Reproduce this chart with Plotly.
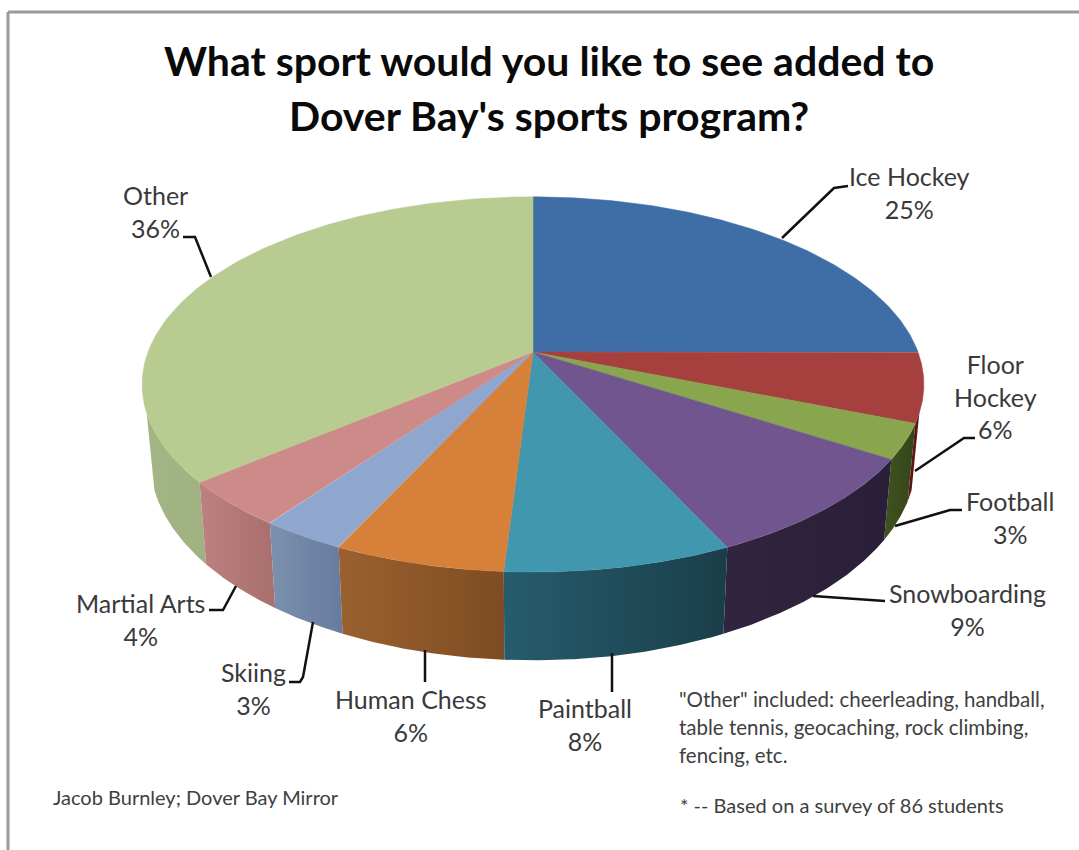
import numpy as np
import plotly.graph_objects as go

# Survey results, clockwise from twelve o'clock
categories = ["Ice Hockey", "Floor Hockey", "Football", "Snowboarding", "Paintball",
              "Human Chess", "Skiing", "Martial Arts", "Other"]
percent = [25, 6, 3, 9, 8, 6, 3, 4, 36]
label_text = ["Ice Hockey", "Floor<br>Hockey", "Football", "Snowboarding", "Paintball",
              "Human Chess", "Skiing", "Martial Arts", "Other"]

top_colors = ["#3F6EA6", "#A5403E", "#89A64E", "#71558F", "#4197AE",
              "#D7803A", "#8FA6CF", "#CC8A89", "#B8CB90"]
# Rim shading, (left, right) on screen
side_colors = [("#2C4A70", "#2C4A70"), ("#5E1614", "#5E1614"), ("#3F5220", "#354519"),
               ("#302440", "#2A1F38"), ("#265C6E", "#1A3E49"), ("#9A6130", "#7E4C22"),
               ("#7C90AE", "#667C9E"), ("#BC8180", "#A96F6D"), ("#A3B585", "#A0B281")]

# Label anchors (centre of the text block)
label_pos = [(909, 192), (995, 396), (1010, 517), (967, 609), (585, 724),
             (411, 715), (253, 688), (140, 619), (155, 211)]

# Leader line paths
leaders = [
    [(782, 238), (834, 188), (848, 186)],
    [(915, 471), (964, 438), (975, 438)],
    [(895, 526), (950, 510), (962, 510)],
    [(813, 596), (885, 601)],
    [(612, 653), (612, 692)],
    [(425, 650), (425, 682)],
    [(313, 622), (303, 677), (300, 682), (289, 682)],
    [(236, 586), (223, 610), (209, 610)],
    [(211, 277), (195, 237), (183, 237)],
]

# Perspective model of the disc
CX, CY = 533, 352
RX, RY = 385, 182
PERSP = 0.173
THICK = 73
SHRINK = 0.98
RIM_FROM, RIM_TO = 108.5, 251.5


def top_xy(theta):
    """Project clockwise angles (radians from north) onto the upper face."""
    u, v = np.sin(theta), -np.cos(theta)
    d = 1 - PERSP * v
    return CX + RX * u / d, CY + RY * v / d


def bottom_xy(theta):
    """Project the same angles onto the lower rim of the disc."""
    u, v = np.sin(theta), -np.cos(theta)
    d = 1 - PERSP * v
    return CX + SHRINK * RX * u / d, CY + RY * v / d + THICK / d


edges = np.radians(np.cumsum([0] + percent) * 3.6)
fig = go.Figure()

# Rim pieces first, limited to the arc between the two silhouette lines
vis_lo, vis_hi = np.radians(RIM_FROM), np.radians(RIM_TO)
for i in sorted(range(len(percent)), key=lambda k: abs((edges[k] + edges[k + 1]) / 2 - np.pi), reverse=True):
    a0, a1 = max(edges[i], vis_lo), min(edges[i + 1], vis_hi)
    if a1 <= a0:
        continue
    th = np.linspace(a0, a1, 80)
    xt, yt = top_xy(th)
    xb, yb = bottom_xy(th[::-1])
    left, right = side_colors[i]
    fig.add_trace(go.Scatter(
        x=np.r_[xt, xb, xt[0]], y=np.r_[yt, yb, yt[0]], mode="lines", fill="toself",
        line=dict(width=0), hoverinfo="skip",
        fillgradient=dict(type="horizontal", colorscale=[[0, left], [1, right]]),
    ))

# Upper face
for i in range(len(percent)):
    th = np.linspace(edges[i], edges[i + 1], 120)
    xt, yt = top_xy(th)
    fig.add_trace(go.Scatter(
        x=np.r_[CX, xt, CX], y=np.r_[CY, yt, CY], mode="lines", fill="toself",
        fillcolor=top_colors[i], line=dict(width=0.5, color=top_colors[i]),
        hoverinfo="skip", name=categories[i],
    ))

shapes = [dict(type="line", xref="x", yref="y", x0=8, x1=8, y0=12, y1=850,
               line=dict(color="#9A9A9A", width=3)),
          dict(type="line", xref="x", yref="y", x0=8, x1=1079, y0=12, y1=12,
               line=dict(color="#9A9A9A", width=3))]
for path in leaders:
    d = "M" + " L".join(f"{x},{y}" for x, y in path)
    shapes.append(dict(type="path", path=d, xref="x", yref="y",
                       line=dict(color="#111111", width=2.5)))

notes = []
FONT = "Lato"
for (x, y), t, p in zip(label_pos, label_text, percent):
    notes.append(dict(x=x, y=y, text=f"{t}<br>{p}%", showarrow=False, xanchor="center", yanchor="middle",
                      font=dict(family=FONT, size=25, color="#3A3A3A")))
for y, t in [(60, "What sport would you like to see added to"), (115, "Dover Bay's sports program?")]:
    notes.append(dict(x=549, y=y, text=f"<b>{t}</b>", showarrow=False, xanchor="center", yanchor="middle",
                      font=dict(family=FONT, size=41, color="#0A0A0A")))
for x, y, size, t in [(677, 699, 20.5, "\"Other\" included: cheerleading, handball,"),
                      (677, 727, 20.5, "table tennis, geocaching, rock climbing,"),
                      (677, 755, 20.5, "fencing, etc."),
                      (678, 805, 20, "* -- Based on a survey of 86 students"),
                      (51, 797, 20, "Jacob Burnley; Dover Bay Mirror")]:
    notes.append(dict(x=x, y=y, text=t, showarrow=False, xanchor="left", yanchor="middle",
                      font=dict(family=FONT, size=size, color="#404040")))

fig.update_layout(
    width=1079, height=850, margin=dict(l=0, r=0, t=0, b=0), showlegend=False,
    paper_bgcolor="white", plot_bgcolor="white", shapes=shapes, annotations=notes,
    xaxis=dict(range=[0, 1079], visible=False, fixedrange=True),
    yaxis=dict(range=[850, 0], visible=False, fixedrange=True),
)
fig.write_html("out.html", config=dict(displayModeBar=False))
